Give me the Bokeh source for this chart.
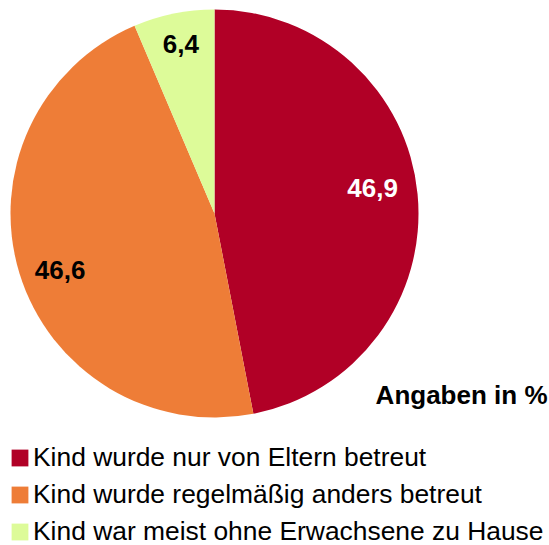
import math
from bokeh.plotting import figure
from bokeh.models import Range1d, ColumnDataSource, Legend, LegendItem, Label
from bokeh.embed import file_html
from bokeh.resources import INLINE

categories = [
    "Kind wurde nur von Eltern betreut",
    "Kind wurde regelmäßig anders betreut",
    "Kind war meist ohne Erwachsene zu Hause",
]
values = [46.9, 46.6, 6.4]
value_labels = ["46,9", "46,6", "6,4"]
colors = ["#B10026", "#EE7D37", "#DDFB99"]
label_colors = ["white", "black", "black"]
note = "Angaben in %"

# style: label placement (radius fraction, angle shift in degrees)
label_r = [0.785, 0.806, 0.845]
label_shift = [3.6, 3.1, -0.3]

W, H = 549, 545
p = figure(width=W, height=H, output_backend="svg", toolbar_location=None,
           x_range=Range1d(0, W), y_range=Range1d(0, H), min_border=0)
p.axis.visible = False
p.grid.visible = False
p.outline_line_color = None
p.background_fill_color = "white"

cx, cy, R = 214, 332, 204
total = sum(values)
starts, ends, mids = [], [], []
cum = 0.0
for v in values:
    a0 = math.pi / 2 - 2 * math.pi * cum / total
    cum += v
    a1 = math.pi / 2 - 2 * math.pi * cum / total
    starts.append(a0)
    ends.append(a1)
    mids.append((a0 + a1) / 2)

renderers = []
for i in range(len(values)):
    r = p.wedge(x=cx, y=cy, radius=R, start_angle=starts[i], end_angle=ends[i],
                direction="clock", fill_color=colors[i], line_color=None)
    renderers.append(r)

lx = [cx + label_r[i] * R * math.cos(mids[i] + math.radians(label_shift[i])) for i in range(3)]
ly = [cy + label_r[i] * R * math.sin(mids[i] + math.radians(label_shift[i])) for i in range(3)]
lsrc = ColumnDataSource(dict(x=lx, y=ly, t=value_labels, c=label_colors))
p.text(x="x", y="y", text="t", source=lsrc, text_align="center", text_baseline="middle",
       text_font_size="26px", text_font_style="bold", text_color="c",
       text_font={"value": "Liberation Sans"})

p.add_layout(Label(x=547, y=151, text=note, text_align="right", text_baseline="alphabetic",
                   text_font_size="26px", text_font_style="bold", text_color="black",
                   text_font="Liberation Sans"))

legend = Legend(items=[LegendItem(label=categories[i], renderers=[renderers[i]]) for i in range(3)],
                location=(9, -2), orientation="vertical",
                glyph_width=21, glyph_height=21, label_standoff=3,
                label_text_font_size="26.4px", label_text_font="Liberation Sans",
                label_text_color="black", label_text_baseline="middle",
                spacing=6, padding=0, margin=0,
                border_line_color=None, background_fill_alpha=0)
p.add_layout(legend, "center")

open("out.html", "w").write(file_html(p, INLINE))
